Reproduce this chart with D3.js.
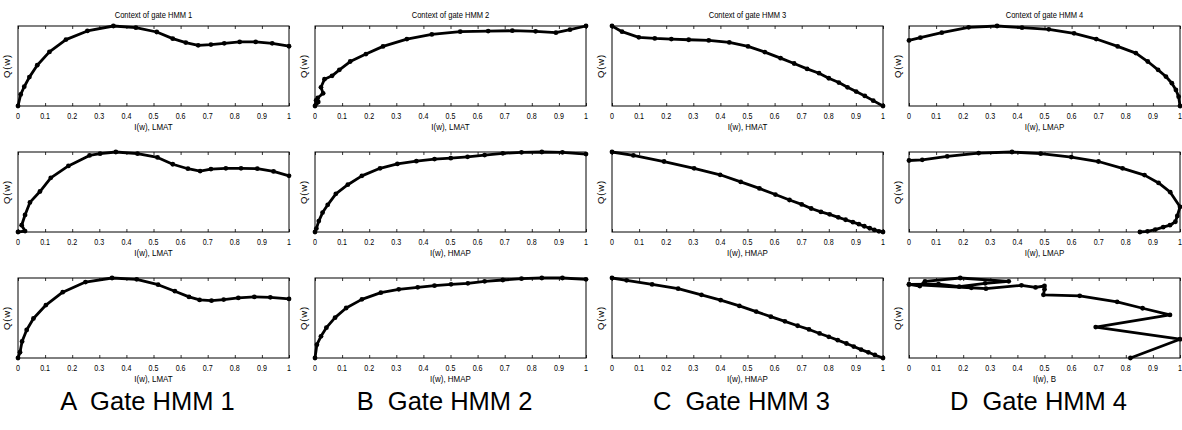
<!DOCTYPE html>
<html>
<head>
<meta charset="utf-8">
<script src="https://cdn.jsdelivr.net/npm/d3@7"></script>
<style>
  body { margin: 0; background: #fff; }
  text { font-family: "Liberation Sans", Arial, Helvetica, sans-serif; fill: #000; }
  .caption { white-space: pre; }
</style>
</head>
<body>
<svg id="fig" width="1182" height="430"></svg>
<script>
// ---- labels ----
const gateTitles = ["Context of gate HMM 1", "Context of gate HMM 2", "Context of gate HMM 3", "Context of gate HMM 4"];
const captions = ["A  Gate HMM 1", "B  Gate HMM 2", "C  Gate HMM 3", "D  Gate HMM 4"];
const xAxisLabels = [
  ["I(w), LMAT", "I(w), LMAT", "I(w), HMAT", "I(w), LMAP"],
  ["I(w), LMAT", "I(w), HMAP", "I(w), HMAP", "I(w), LMAP"],
  ["I(w), LMAT", "I(w), HMAP", "I(w), HMAP", "I(w), B"]
];
const yAxisLabel = "Q(w)";
const tickValues = [0, 0.1, 0.2, 0.3, 0.4, 0.5, 0.6, 0.7, 0.8, 0.9, 1];
const tickLabels = ["0", "0.1", "0.2", "0.3", "0.4", "0.5", "0.6", "0.7", "0.8", "0.9", "1"];

// ---- curves: [I(w), Q(w)] pairs, Q normalised per panel ----
const gate1Row1 = [[0,0],[0.01,0.145],[0.023,0.241],[0.042,0.361],[0.071,0.51],[0.116,0.676],[0.177,0.83],[0.256,0.938],[0.352,1.0],[0.435,0.979],[0.512,0.925],[0.571,0.842],[0.619,0.793],[0.665,0.759],[0.712,0.768],[0.761,0.784],[0.818,0.801],[0.877,0.801],[0.938,0.784],[1.0,0.747]];
const gate1Row2 = [[0,0],[0.026,0.012],[0.0135,0.085],[0.026,0.213],[0.044,0.37],[0.081,0.506],[0.121,0.677],[0.186,0.826],[0.264,0.957],[0.303,0.979],[0.361,1.0],[0.441,0.979],[0.515,0.932],[0.571,0.847],[0.627,0.791],[0.672,0.762],[0.712,0.787],[0.767,0.796],[0.823,0.796],[0.883,0.791],[0.943,0.757],[1.0,0.702]];
const gate1Row3 = [[0,0],[0.0074,0.072],[0.015,0.207],[0.032,0.35],[0.057,0.494],[0.103,0.662],[0.165,0.823],[0.249,0.949],[0.347,1.0],[0.438,0.983],[0.517,0.916],[0.579,0.835],[0.631,0.764],[0.67,0.726],[0.714,0.717],[0.759,0.73],[0.813,0.751],[0.872,0.764],[0.931,0.759],[1.0,0.738]];

const gate2Row1 = [[0,0],[0.005,0.03],[0.012,0.05],[0.004,0.07],[0.01,0.1],[0.03,0.159],[0.022,0.234],[0.035,0.335],[0.063,0.377],[0.09,0.452],[0.13,0.556],[0.188,0.649],[0.251,0.745],[0.339,0.837],[0.431,0.895],[0.536,0.929],[0.639,0.937],[0.728,0.941],[0.814,0.933],[0.889,0.916],[0.941,0.954],[1.0,1.0]];
const gate2Row2 = [[0,0],[0.005,0.043],[0.014,0.136],[0.028,0.243],[0.047,0.34],[0.077,0.477],[0.121,0.591],[0.173,0.702],[0.24,0.796],[0.304,0.851],[0.374,0.885],[0.441,0.911],[0.501,0.923],[0.563,0.94],[0.626,0.962],[0.693,0.983],[0.762,0.996],[0.837,1.0],[0.913,0.996],[1.0,0.974]];
const gate2Row3 = [[0,0],[0.007,0.167],[0.022,0.271],[0.042,0.379],[0.074,0.504],[0.115,0.625],[0.173,0.733],[0.243,0.817],[0.309,0.858],[0.379,0.883],[0.441,0.904],[0.502,0.921],[0.564,0.933],[0.626,0.958],[0.693,0.975],[0.762,0.992],[0.837,1.0],[0.913,1.0],[1.0,0.983]];

const gate3Row1 = [[0,1.0],[0.037,0.929],[0.099,0.858],[0.158,0.845],[0.219,0.837],[0.283,0.828],[0.357,0.82],[0.433,0.795],[0.502,0.745],[0.564,0.674],[0.622,0.598],[0.672,0.531],[0.72,0.464],[0.764,0.41],[0.8,0.347],[0.837,0.293],[0.869,0.234],[0.901,0.18],[0.933,0.126],[0.964,0.067],[1.0,0]];
const gate3Row2 = [[0,1.0],[0.079,0.957],[0.192,0.881],[0.303,0.796],[0.399,0.715],[0.475,0.626],[0.544,0.545],[0.603,0.468],[0.655,0.4],[0.7,0.345],[0.735,0.294],[0.771,0.251],[0.803,0.221],[0.835,0.183],[0.862,0.153],[0.889,0.123],[0.911,0.098],[0.931,0.072],[0.951,0.047],[0.968,0.026],[0.985,0.009],[1.0,0]];
const gate3Row3 = [[0,1.0],[0.054,0.971],[0.148,0.92],[0.244,0.866],[0.33,0.79],[0.401,0.723],[0.47,0.651],[0.532,0.58],[0.586,0.517],[0.638,0.458],[0.685,0.403],[0.727,0.357],[0.766,0.307],[0.8,0.265],[0.833,0.223],[0.865,0.181],[0.892,0.143],[0.919,0.105],[0.946,0.071],[0.97,0.038],[1.0,0]];

const gate4Row1 = [[0,0.82],[0.042,0.854],[0.121,0.916],[0.22,0.983],[0.325,1.0],[0.417,0.979],[0.516,0.958],[0.609,0.908],[0.691,0.837],[0.77,0.745],[0.837,0.661],[0.881,0.556],[0.919,0.452],[0.948,0.368],[0.97,0.285],[0.985,0.201],[0.995,0.117],[1.0,0]];
const gate4Row2 = [[0,0.894],[0.049,0.902],[0.141,0.945],[0.257,0.987],[0.38,1.0],[0.486,0.979],[0.599,0.936],[0.699,0.881],[0.788,0.796],[0.869,0.711],[0.921,0.613],[0.964,0.498],[1.0,0.315],[0.99,0.2],[0.983,0.128],[0.963,0.085],[0.938,0.06],[0.909,0.03],[0.88,0.009],[0.852,0]];
const gate4Row3 = [[0,0.92],[0.04,0.899],[0.059,0.958],[0.189,1.0],[0.368,0.958],[0.281,0.933],[0.185,0.891],[0.109,0.924],[0,0.92],[0.23,0.878],[0.284,0.866],[0.415,0.908],[0.467,0.882],[0.5,0.9],[0.5,0.86],[0.496,0.79],[0.63,0.777],[0.768,0.702],[0.862,0.622],[0.963,0.538],[0.689,0.387],[1.0,0.235],[0.817,0]];

const panels = [
  [gate1Row1, gate2Row1, gate3Row1, gate4Row1],
  [gate1Row2, gate2Row2, gate3Row2, gate4Row2],
  [gate1Row3, gate2Row3, gate3Row3, gate4Row3]
];

// ---- layout ----
const colLeft = [18, 315, 612, 909];
const rowTop = [26, 152, 278];
const plotW = 271, plotH = 80;
const narrow = 0.84; // horizontal squeeze for the small axis fonts

const svg = d3.select("#fig");

panels.forEach((row, r) => {
  row.forEach((pts, c) => {
    const g = svg.append("g").attr("transform", `translate(${colLeft[c]},${rowTop[r]})`);
    const x = d3.scaleLinear().domain([0, 1]).range([0, plotW]);
    const y = d3.scaleLinear().domain([0, 1]).range([plotH, 0]);

    // frame
    g.append("rect").attr("x", 0).attr("y", 0).attr("width", plotW).attr("height", plotH)
      .attr("fill", "none").attr("stroke", "#000").attr("stroke-width", 1);

    // inward ticks on bottom and top edges
    const bottomAxis = d3.axisBottom(x).tickValues(tickValues).tickSize(-3).tickFormat("");
    const topAxis = d3.axisTop(x).tickValues(tickValues).tickSize(-3).tickFormat("");
    const ba = g.append("g").attr("transform", `translate(0,${plotH})`).call(bottomAxis);
    const ta = g.append("g").call(topAxis);
    [ba, ta].forEach(a => {
      a.select(".domain").remove();
      a.selectAll("line").attr("stroke", "#000").attr("stroke-width", 0.8);
    });

    // tick labels
    g.append("g").selectAll("text").data(tickValues).join("text")
      .attr("transform", d => `translate(${x(d)},${plotH + 13}) scale(${narrow},1)`)
      .attr("text-anchor", "middle").attr("font-size", 8.5)
      .text((d, i) => tickLabels[i]);

    // axis labels
    g.append("text")
      .attr("transform", `translate(${plotW / 2},${plotH + 24}) scale(${narrow},1)`)
      .attr("text-anchor", "middle").attr("font-size", 9.5)
      .text(xAxisLabels[r][c]);
    g.append("text")
      .attr("transform", `translate(-8.5,${plotH / 2}) rotate(-90)`)
      .attr("text-anchor", "middle").attr("font-size", 9.5)
      .attr("letter-spacing", 0.8)
      .text(yAxisLabel);

    if (r === 0) {
      g.append("text")
        .attr("transform", `translate(${plotW / 2},-8) scale(${narrow},1)`)
        .attr("text-anchor", "middle").attr("font-size", 9)
        .text(gateTitles[c]);
    }

    // curve and markers
    const line = d3.line().x(d => x(d[0])).y(d => y(d[1]));
    g.append("path").datum(pts).attr("d", line)
      .attr("fill", "none").attr("stroke", "#000").attr("stroke-width", 2.8)
      .attr("stroke-linejoin", "round").attr("stroke-linecap", "round");
    g.append("g").selectAll("circle").data(pts).join("circle")
      .attr("cx", d => x(d[0])).attr("cy", d => y(d[1])).attr("r", 2.4).attr("fill", "#000");
  });
});

// column captions
svg.append("g").selectAll("text").data(captions).join("text")
  .attr("class", "caption")
  .attr("x", (d, i) => colLeft[i] + plotW / 2 - 6)
  .attr("y", 410)
  .attr("text-anchor", "middle").attr("font-size", 25.5)
  .text(d => d);
</script>
</body>
</html>
